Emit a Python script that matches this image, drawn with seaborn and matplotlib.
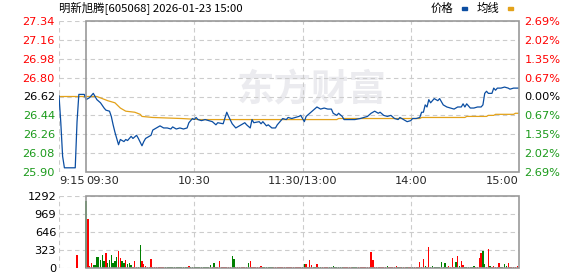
import matplotlib
matplotlib.use("Agg")
import matplotlib.pyplot as plt
import seaborn as sns
import pandas as pd
from matplotlib.patches import Rectangle
from matplotlib.transforms import blended_transform_factory

# ---------------- data ----------------
title = "明新旭腾[605068] 2026-01-23 15:00"
legend_labels = ["价格", "均线"]
prev_close = 26.62
price_ticks = [25.90, 26.08, 26.26, 26.44, 26.62, 26.80, 26.98, 27.16, 27.34]
pct_labels = ["2.69%", "2.02%", "1.35%", "0.67%", "0.00%", "0.67%", "1.35%", "2.02%", "2.69%"]
vol_ticks = [0, 323, 646, 969, 1292]
time_ticks = [0, 15, 75, 135, 195, 255]          # minutes since 9:15 (lunch break removed)
time_labels = ["9:15", "09:30", "10:30", "11:30/13:00", "14:00", "15:00"]

price_min = [0, 1, 2, 3, 9, 10, 11, 14,
             15, 16, 17, 19, 20, 21, 23, 25, 26, 28, 29, 30, 31, 32, 33, 34, 36, 37, 38, 40,
             41, 43, 44, 46, 47, 48, 50, 51, 52, 54, 56, 58, 60, 62, 63, 65, 67, 69, 71, 72,
             74, 75, 76, 77, 79, 81, 83, 85, 87, 88, 91, 93, 94, 96, 98, 100, 101, 103, 104,
             106, 107, 108, 111, 112, 113, 115, 116, 118, 120, 121, 123, 124, 126, 127, 129,
             131, 133, 134, 135, 136, 137, 139, 141, 143, 145, 147, 149, 151, 152, 154, 155,
             157, 158, 161, 164, 167, 169, 171, 173, 175, 177, 178, 180, 182, 184, 186, 188,
             189, 191, 193, 195, 196, 198, 200, 201, 202, 203, 204, 205, 206, 207, 208, 210,
             211, 212, 213, 215, 217, 219, 220, 221, 223, 224, 225, 226, 228, 230, 232, 234,
             235, 236, 237, 238, 240, 241, 242, 243, 245, 247, 249, 250, 252, 255]
price_val = [26.63, 26.37, 26.05, 25.94, 25.94, 26.38, 26.64, 26.64,
             26.59, 26.60, 26.61, 26.65, 26.62, 26.59, 26.56, 26.51, 26.49, 26.48, 26.43, 26.35,
             26.28, 26.22, 26.16, 26.21, 26.19, 26.21, 26.20, 26.24,
             26.22, 26.25, 26.22, 26.15, 26.19, 26.22, 26.24, 26.25, 26.30, 26.32, 26.34, 26.32,
             26.32, 26.31, 26.33, 26.31, 26.32, 26.31, 26.32, 26.37,
             26.41, 26.40, 26.42, 26.40, 26.39, 26.40, 26.39, 26.38, 26.35, 26.37, 26.36, 26.47,
             26.43, 26.36, 26.32, 26.34, 26.35, 26.37, 26.35,
             26.32, 26.40, 26.37, 26.38, 26.36, 26.38, 26.34, 26.35, 26.32, 26.32, 26.35, 26.39,
             26.41, 26.40, 26.42, 26.41,
             26.42, 26.43, 26.44, 26.41, 26.38, 26.43, 26.46, 26.49, 26.52, 26.50, 26.51, 26.50,
             26.50, 26.46, 26.44, 26.46,
             26.43, 26.40, 26.40, 26.40, 26.41, 26.42, 26.43, 26.46, 26.48, 26.46, 26.47, 26.44,
             26.43, 26.44, 26.41, 26.40,
             26.42, 26.40, 26.38, 26.39, 26.41, 26.41, 26.42, 26.47, 26.47, 26.54, 26.52, 26.59,
             26.56, 26.58, 26.60, 26.58,
             26.60, 26.57, 26.54, 26.52, 26.51, 26.50, 26.51, 26.52, 26.52, 26.55, 26.52, 26.55,
             26.51, 26.51, 26.52, 26.52,
             26.54, 26.65, 26.67, 26.65, 26.65, 26.70, 26.68, 26.70, 26.70, 26.71, 26.70, 26.69,
             26.70, 26.70]

avg_min = [0, 15, 21, 24, 27, 31, 34, 37, 42, 45, 46, 52, 68, 78, 154, 155, 200, 201,
           225, 226, 237, 238, 241, 242, 252, 253, 255]
avg_val = [26.62, 26.62, 26.62, 26.60, 26.58, 26.56, 26.51, 26.48, 26.47, 26.45, 26.43, 26.42,
           26.41, 26.40, 26.40, 26.41, 26.41, 26.42, 26.42, 26.43, 26.43, 26.44, 26.44, 26.45,
           26.45, 26.46, 26.46]

auction_min = 10
auction_vol = 237
vol_start = 15
volume = [
    1199, 879, 41, 93, 47, 47, 198, 198, 151, 239,
    122, 268, 81, 151, 239, 81, 122, 198, 297, 180,
    122, 93, 140, 64, 93, 47, 23, 122, 23, 23,
    407, 122, 76, 29, 23, 12, 163, 23, 20, 18,
    20, 22, 18, 20, 18, 22, 20, 18, 20, 22,
    18, 20, 22, 18, 20, 18, 22, 41, 20, 18,
    20, 22, 18, 20, 18, 22, 20, 18, 20, 47,
    22, 81, 18, 20, 128, 18, 20, 22, 18, 20,
    18, 221, 163, 20, 18, 22, 20, 18, 20, 22,
    81, 128, 20, 18, 22, 20, 18, 41, 20, 18,
    22, 20, 18, 20, 22, 18, 20, 18, 22, 20,
    18, 20, 22, 18, 20, 18, 22, 20, 18, 20,
    22,
    70, 70, 20, 140, 58, 18, 20, 70, 18, 20,
    22, 18, 20, 18, 22, 20, 29, 18, 20, 22,
    18, 20, 22, 18, 20, 18, 22, 20, 18, 20,
    22, 18, 20, 18, 22, 20, 18, 279, 140, 20,
    18, 22, 20, 18, 20, 22, 29, 18, 20, 22,
    18, 35, 20, 18, 22, 20, 18, 20, 22, 18,
    20, 18, 22, 20, 105, 18, 157, 41, 20, 384,
    18, 29, 20, 22, 18, 20, 105, 18, 87, 20,
    41, 18, 175, 20, 105, 210, 41, 122, 58, 18,
    20, 22, 18, 20, 35, 18, 20, 175, 274, 297,
    70, 18, 349, 35, 20, 35, 18, 22, 87, 18,
    20, 70, 29, 87, 18, 20, 22, 18, 35, 22]
vol_dir = ("GRRRGGGGGG" "GRGGGGGGRR" "GGRGGGRRRG" "GRRRRRRRRR" "RRRRGGGGGG"
           "GGGGGGGRGG" "GGGGGGGGGG" "RGRRRRRRRR" "RGGRRRRRRR" "GRRRRRRRGG"
           "GGGGRRRRRR" "RRRRRRRRRR" "G"
           "GRRRRGGRGG" "RRRRGGGGGG" "GGRRRRRGGG" "RRRRRRRRRR" "RRRRRRGRRR"
           "RRGRGRRGRR" "GRRRRRRGRR" "GGGGGGGGGG" "RRRRGRGRRG" "GGGGGRRRRG"
           "GRRGRRRRRG" "GGGRRRRRRR")

# ---------------- style ----------------
sns.set_theme(style="white")
plt.rcParams["font.family"] = ["DejaVu Sans", "Noto Sans CJK SC"]

RED = "#ff0000"
GREEN = "#1a9a1a"
VGREEN = "#008000"
BLUE = "#0b4ea2"
GOLD = "#e3a21a"
GRID = "#cccccc"
FRAME = "#999999"
FS = 8.2

W, H = 578, 276
fig = plt.figure(figsize=(W / 100, H / 100), dpi=100)
fig.patch.set_facecolor("white")

def fx(px):
    return px / W

def fy(py):
    return 1 - py / H

ax = fig.add_axes([fx(59), fy(172), fx(519) - fx(59), fy(21) - fy(172)])
axv = fig.add_axes([fx(59), fy(268), fx(519) - fx(59), fy(196) - fy(268)])

for a in (ax, axv):
    a.set_facecolor("white")
    for s in a.spines.values():
        s.set_visible(False)
    a.set_xlim(0, 255)
    a.set_xticks([0, 75, 135, 195])
    a.grid(True, ls=(0, (4, 3)), color=GRID, lw=0.8)
    trans = blended_transform_factory(a.transData, a.transAxes)
    a.add_patch(Rectangle((15, 0), 240, 1, transform=trans, fill=False,
                          ec=FRAME, lw=1.2, clip_on=False, zorder=5))

# watermark
ax.text(0.55, 0.54, "东方财富", transform=ax.transAxes, ha="center", va="center",
        fontsize=27, fontweight="bold", color="#ebebef", family=["Noto Sans CJK SC"], zorder=0)

# price & average lines
dfp = pd.DataFrame({"m": price_min, "p": price_val})
dfa = pd.DataFrame({"m": avg_min, "p": avg_val})
sns.lineplot(data=dfa, x="m", y="p", ax=ax, color=GOLD, lw=0.9, zorder=3, sort=False)
sns.lineplot(data=dfp, x="m", y="p", ax=ax, color=BLUE, lw=0.9, zorder=4, sort=False)

ax.set_ylim(price_ticks[0], price_ticks[-1])
ax.set_yticks(price_ticks)
ax.set_yticklabels([f"{v:.2f}" for v in price_ticks])
for lab, v in zip(ax.get_yticklabels(), price_ticks):
    lab.set_color(RED if v > prev_close + 1e-9 else ("black" if abs(v - prev_close) < 1e-9 else GREEN))
ax.tick_params(axis="y", length=0, pad=3, labelsize=FS)
ax.set_xlabel("")
ax.set_ylabel("")

# x labels under main chart
ax.set_xticks(time_ticks)
ax.set_xticklabels(time_labels)
ax.tick_params(axis="x", length=0, pad=3, labelsize=FS)
aligns = ["left", "left", "center", "center", "center", "right"]
for lab, al in zip(ax.get_xticklabels(), aligns):
    lab.set_ha(al)
for gl, t in zip(ax.get_xgridlines(), time_ticks):
    if t in (15, 255):
        gl.set_visible(False)

# right percentage axis
axr = ax.twinx()
for s in axr.spines.values():
    s.set_visible(False)
axr.set_ylim(price_ticks[0], price_ticks[-1])
axr.set_yticks(price_ticks)
axr.set_yticklabels(pct_labels[::-1])
for lab, v in zip(axr.get_yticklabels(), price_ticks):
    lab.set_color(RED if v > prev_close + 1e-9 else ("black" if abs(v - prev_close) < 1e-9 else GREEN))
axr.tick_params(axis="y", length=0, pad=4, labelsize=FS)
axr.grid(False)

# volume bars
vol_m = list(range(vol_start, vol_start + len(volume)))
vol_col = [RED if d == "R" else VGREEN for d in vol_dir]
axv.bar(vol_m, volume, width=0.75, color=vol_col, lw=0, zorder=3, antialiased=False)
axv.bar([auction_min], [auction_vol], width=0.75, color=RED, lw=0, zorder=3, antialiased=False)
axv.set_ylim(0, vol_ticks[-1])
axv.set_yticks(vol_ticks)
axv.set_yticklabels([str(v) for v in vol_ticks])
axv.tick_params(axis="y", length=0, pad=2, labelsize=FS, labelcolor="black")
axv.tick_params(axis="x", length=0, labelbottom=False)

# title and legend
fig.text(fx(59), fy(8), title, ha="left", va="center", fontsize=FS,
         family=["Noto Sans CJK SC", "DejaVu Sans"], color="black")
fig.text(fx(431), fy(8), legend_labels[0], ha="left", va="center", fontsize=FS,
         family=["Noto Sans CJK SC"], color="black")
fig.patches.append(Rectangle((fx(462), fy(10)), fx(5), 3 / H, transform=fig.transFigure,
                             color=BLUE, figure=fig))
fig.text(fx(477), fy(8), legend_labels[1], ha="left", va="center", fontsize=FS,
         family=["Noto Sans CJK SC"], color="black")
fig.patches.append(Rectangle((fx(508), fy(10)), fx(5), 3 / H, transform=fig.transFigure,
                             color=GOLD, figure=fig))

fig.savefig("out.png", dpi=100, facecolor="white")
